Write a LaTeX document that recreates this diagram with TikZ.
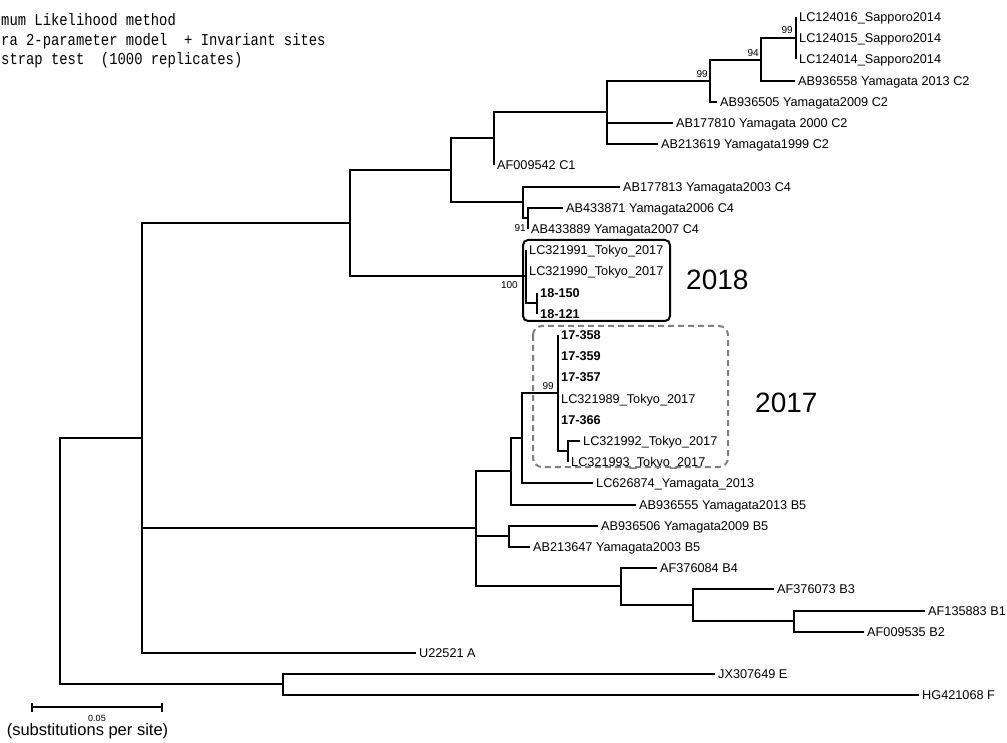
\documentclass[tikz,border=0pt]{standalone}
\usepackage{fontspec}
\setmainfont{Liberation Sans}
\setmonofont[FakeStretch=0.83]{Liberation Mono}
\usepackage{tikz}
\usetikzlibrary{arrows.meta}

\begin{document}
\begin{tikzpicture}[x=1pt,y=-1pt,
br/.style={line width=2pt},
leaf/.style={anchor=west,inner xsep=3pt,inner ysep=0pt,text height=9pt,text depth=0pt,font=\fontsize{12.7}{14}\selectfont},
ours/.style={leaf,font=\fontsize{12.7}{14}\selectfont\bfseries},
bs/.style={inner sep=0pt,font=\fontsize{10}{12}\selectfont},
yr/.style={anchor=west,inner sep=0pt,font=\fontsize{28}{32}\selectfont},
hdr/.style={anchor=west,inner sep=0pt,text height=10pt,text depth=0pt,font=\ttfamily\fontsize{16.7}{20}\selectfont}]
\useasboundingbox (0,0) rectangle (1007,743);
\node[hdr] (meth) at (1,21) {mum Likelihood method};
\node[hdr] (model) at (1,41) {ra 2-parameter model\ \ + Invariant sites};
\node[hdr] (boot) at (1,60) {strap test\ \ (1000 replicates)};

\coordinate (root) at (60,561);
\coordinate (n1) at (142,438);
\coordinate (ef) at (283,684);
\coordinate (cc) at (350,223);
\coordinate (cu) at (451,170);
\coordinate (c12) at (494,138);
\coordinate (c2) at (607,112);
\coordinate (c2a) at (710,81);
\coordinate (c2b) at (761,60);
\coordinate (spo) at (796,38);
\coordinate (c4) at (523,202);
\coordinate (c4b) at (528,218);
\coordinate (g18) at (526,276);
\coordinate (s18) at (537,303);
\coordinate (bb) at (476,528);
\coordinate (b2) at (511,471);
\coordinate (b1) at (522,438);
\coordinate (g17) at (558,393);
\coordinate (s17) at (568,451);
\coordinate (b5) at (509,536);
\coordinate (b4) at (621,586);
\coordinate (b123) at (693,605);
\coordinate (b12) at (794,621);

\node[leaf] (lc124016) at (796,17) {LC124016\_Sapporo2014};
\node[leaf] (lc124015) at (796,38) {LC124015\_Sapporo2014};
\node[leaf] (lc124014) at (796,59) {LC124014\_Sapporo2014};
\node[leaf] (ab936558) at (795,81) {AB936558 Yamagata 2013 C2};
\node[leaf] (ab936505) at (717,102) {AB936505 Yamagata2009 C2};
\node[leaf] (ab177810) at (673,123) {AB177810 Yamagata 2000 C2};
\node[leaf] (ab213619) at (658,144) {AB213619 Yamagata1999 C2};
\node[leaf] (af009542) at (494,165) {AF009542 C1};
\node[leaf] (ab177813) at (620,187) {AB177813 Yamagata2003 C4};
\node[leaf] (ab433871) at (563,208) {AB433871 Yamagata2006 C4};
\node[leaf] (ab433889) at (528,229) {AB433889 Yamagata2007 C4};
\node[leaf] (lc321991) at (526,250) {LC321991\_Tokyo\_2017};
\node[leaf] (lc321990) at (526,271) {LC321990\_Tokyo\_2017};
\node[ours] (k18a) at (537,293) {18-150};
\node[ours] (k18b) at (537,314) {18-121};
\node[ours] (k17a) at (558,335) {17-358};
\node[ours] (k17b) at (558,356) {17-359};
\node[ours] (k17c) at (558,377) {17-357};
\node[leaf] (lc321989) at (558,399) {LC321989\_Tokyo\_2017};
\node[ours] (k17d) at (558,420) {17-366};
\node[leaf] (lc321992) at (580,441) {LC321992\_Tokyo\_2017};
\node[leaf] (lc321993) at (568,462) {LC321993\_Tokyo\_2017};
\node[leaf] (lc626874) at (593,483) {LC626874\_Yamagata\_2013};
\node[leaf] (ab936555) at (636,505) {AB936555 Yamagata2013 B5};
\node[leaf] (ab936506) at (598,526) {AB936506 Yamagata2009 B5};
\node[leaf] (ab213647) at (530,547) {AB213647 Yamagata2003 B5};
\node[leaf] (af376084) at (657,568) {AF376084 B4};
\node[leaf] (af376073) at (774,589) {AF376073 B3};
\node[leaf] (af135883) at (925,611) {AF135883 B1};
\node[leaf] (af009535) at (864,632) {AF009535 B2};
\node[leaf] (u22521) at (416,653) {U22521 A};
\node[leaf] (jx307649) at (715,674) {JX307649 E};
\node[leaf] (hg421068) at (919,695) {HG421068 F};

\draw[br](root)|-(n1);\draw[br](root)|-(ef);
\draw[br](n1)|-(cc);\draw[br](n1)|-(bb);\draw[br](n1)|-(u22521.west);
\draw[br](ef)|-(jx307649.west);\draw[br](ef)|-(hg421068.west);
\draw[br](cc)|-(cu);\draw[br](cc)|-(g18);
\draw[br](cu)|-(c12);\draw[br](cu)|-(c4);
\draw[br](c12)|-(c2);\draw[br](c12)|-(af009542.west);
\draw[br](c2)|-(c2a);\draw[br](c2)|-(ab177810.west);\draw[br](c2)|-(ab213619.west);
\draw[br](c2a)|-(c2b);\draw[br](c2a)|-(ab936505.west);
\draw[br](c2b)|-(spo);\draw[br](c2b)|-(ab936558.west);
\draw[br](spo)|-(lc124016.west);\draw[br](spo)|-(lc124014.west);
\draw[br](c4)|-(ab177813.west);\draw[br](c4)|-(c4b);
\draw[br](c4b)|-(ab433871.west);\draw[br](c4b)|-(ab433889.west);
\draw[br](g18)|-(lc321991.west);\draw[br](g18)|-(s18);
\draw[br](s18)|-(k18a.west);\draw[br](s18)|-(k18b.west);
\draw[br](bb)|-(b2);\draw[br](bb)|-(b5);\draw[br](bb)|-(b4);
\draw[br](b2)|-(b1);\draw[br](b2)|-(ab936555.west);
\draw[br](b1)|-(g17);\draw[br](b1)|-(lc626874.west);
\draw[br](g17)|-(k17a.west);\draw[br](g17)|-(s17);
\draw[br](s17)|-(lc321992.west);\draw[br](s17)|-(lc321993.west);
\draw[br](b5)|-(ab936506.west);\draw[br](b5)|-(ab213647.west);
\draw[br](b4)|-(af376084.west);\draw[br](b4)|-(b123);
\draw[br](b123)|-(af376073.west);\draw[br](b123)|-(b12);
\draw[br](b12)|-(af135883.west);\draw[br](b12)|-(af009535.west);

\node[bs,anchor=south east] (bs1) at (793,34) {99};
\node[bs,anchor=south east] (bs2) at (759,57) {94};
\node[bs,anchor=south east] (bs3) at (708,78) {99};
\node[bs,anchor=north east] (bs4) at (526,224) {91};
\node[bs,anchor=north east] (bs5) at (518,281) {100};
\node[bs,anchor=south east] (bs6) at (554,390) {99};

\draw[line width=2pt,rounded corners=5pt] (523,240) rectangle (670,321);
\draw[gray,line width=2pt,dash pattern=on 6pt off 4pt,rounded corners=9pt] (533,326) rectangle (728,467);
\node[yr] (y18) at (686,280) {2018};
\node[yr] (y17) at (755,403) {2017};

\coordinate (sl) at (31,707);\coordinate (sr) at (163,707);
\draw[br,{Bar[width=9pt]}-{Bar[width=9pt]}](sl)--(sr);
\node[inner sep=0pt,font=\fontsize{9}{10}\selectfont] (sv) at (97,718.5) {0.05};
\node[inner sep=0pt,font=\fontsize{16.5}{18}\selectfont] (su) at (87.5,731) {(substitutions per site)};
\end{tikzpicture}
\end{document}
